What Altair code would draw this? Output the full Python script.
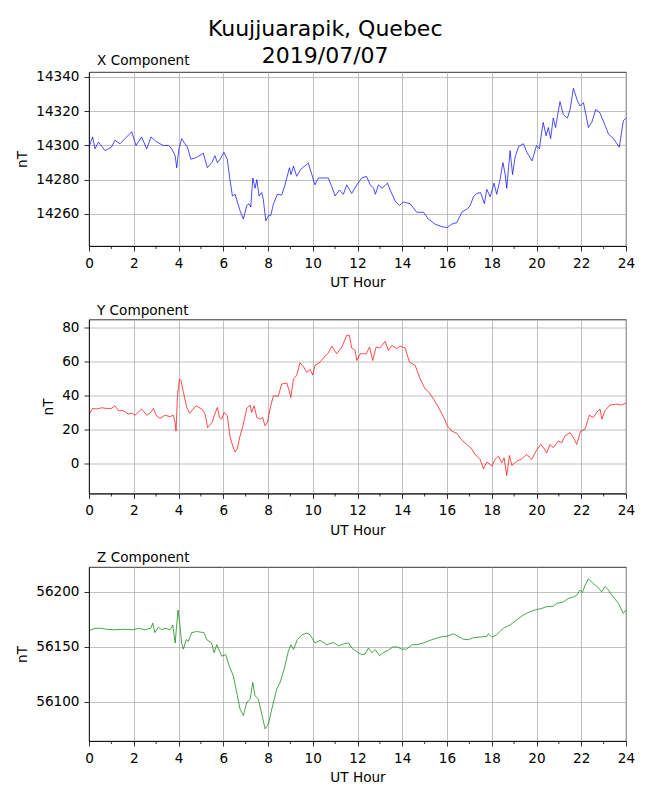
import altair as alt
import pandas as pd

# ---------------- data ----------------
x_hours = [0.0, 0.16, 0.27, 0.42, 0.72, 1.0, 1.16, 1.39, 1.61, 1.91, 2.1, 2.35, 2.58, 2.77, 3.03, 3.32, 3.55, 3.7, 3.85, 3.92,
           4.02, 4.14, 4.29, 4.4, 4.55, 4.81, 5.11, 5.29, 5.49, 5.63, 5.74, 5.86, 6.03, 6.18, 6.3, 6.41, 6.53, 6.63, 6.75, 6.9,
           7.05, 7.15, 7.23, 7.32, 7.42, 7.5, 7.6, 7.72, 7.79, 7.9, 8.02, 8.12, 8.24, 8.42, 8.61, 8.76, 8.96, 9.03, 9.14, 9.28,
           9.46, 9.8, 9.96, 10.1, 10.25, 10.48, 10.7, 10.85, 11.0, 11.19, 11.37, 11.52, 11.74, 11.97, 12.19, 12.4, 12.57, 12.72,
           12.8, 12.94, 13.1, 13.34, 13.46, 13.68, 13.88, 14.05, 14.35, 14.65, 14.95, 15.17, 15.47, 15.77, 16.0, 16.2, 16.44,
           16.66, 16.9, 17.03, 17.18, 17.33, 17.5, 17.67, 17.78, 17.93, 18.1, 18.22, 18.37, 18.5, 18.6, 18.67, 18.82, 18.93,
           19.04, 19.2, 19.42, 19.57, 19.8, 20.0, 20.13, 20.2, 20.3, 20.43, 20.53, 20.63, 20.75, 20.85, 21.05, 21.2, 21.38,
           21.5, 21.65, 21.83, 21.95, 22.1, 22.32, 22.47, 22.65, 22.84, 23.07, 23.22, 23.44, 23.7, 23.88, 24.0]
x_values = [14299, 14305, 14298, 14302, 14297, 14299, 14303, 14301, 14304, 14308, 14300, 14305, 14298, 14305, 14302, 14300,
            14300, 14298, 14294, 14287, 14298, 14304, 14301, 14299, 14292, 14293, 14295.5, 14287, 14290, 14294, 14290, 14292,
            14296, 14292, 14280, 14270.5, 14271.5, 14267, 14262, 14257, 14265, 14266, 14264, 14281, 14275, 14280, 14270.5,
            14272.5, 14268.6, 14256, 14259, 14259, 14265.7, 14271.5, 14271, 14277, 14287, 14283, 14288, 14282, 14286, 14289.7,
            14283, 14277, 14281, 14281, 14281, 14276, 14270.5, 14274, 14271.5, 14277, 14272, 14277, 14281, 14282, 14277, 14275,
            14271.5, 14277, 14275, 14278, 14274, 14267.6, 14265, 14267, 14266, 14261, 14261, 14257, 14254, 14252.6, 14252,
            14254, 14255, 14261, 14263, 14264.7, 14270, 14272, 14272.5, 14266, 14274.4, 14270, 14278, 14271.5, 14280, 14290,
            14283, 14275, 14297, 14283, 14293, 14299.4, 14301, 14296, 14291, 14300, 14298, 14305, 14313.5, 14305.7, 14310.5,
            14304, 14316, 14310.5, 14325.6, 14318, 14316, 14321, 14333.4, 14326, 14323, 14325, 14310.5, 14313.5, 14321, 14319,
            14311.5, 14306.6, 14304, 14299, 14314.4, 14316]

y_hours = [0.04, 0.16, 0.34, 0.57, 0.79, 1.0, 1.16, 1.31, 1.53, 1.76, 1.91, 2.06, 2.35, 2.58, 2.73, 2.88, 3.0, 3.17, 3.4, 3.62,
           3.77, 3.85, 3.89, 3.95, 4.04, 4.11, 4.22, 4.37, 4.5, 4.78, 5.04, 5.19, 5.3, 5.5, 5.6, 5.74, 5.83, 5.93, 6.04, 6.18,
           6.3, 6.42, 6.53, 6.63, 6.75, 6.9, 7.05, 7.2, 7.27, 7.38, 7.5, 7.65, 7.76, 7.87, 7.97, 8.09, 8.24, 8.46, 8.61, 8.84,
           8.96, 9.02, 9.14, 9.28, 9.43, 9.6, 9.73, 9.88, 10.0, 10.1, 10.33, 10.55, 10.7, 10.85, 11.07, 11.3, 11.52, 11.64,
           11.74, 11.89, 11.97, 12.12, 12.39, 12.54, 12.68, 12.83, 13.0, 13.24, 13.38, 13.53, 13.76, 13.9, 14.13, 14.32, 14.58,
           14.8, 15.02, 15.17, 15.4, 15.62, 15.84, 16.0, 16.2, 16.44, 16.66, 16.88, 17.06, 17.26, 17.48, 17.63, 17.78, 17.93,
           18.0, 18.15, 18.3, 18.45, 18.55, 18.67, 18.79, 18.9, 19.12, 19.34, 19.56, 19.79, 19.98, 20.19, 20.31, 20.46, 20.6,
           20.75, 20.98, 21.13, 21.27, 21.5, 21.65, 21.8, 21.97, 22.17, 22.36, 22.54, 22.69, 22.84, 22.92, 23.06, 23.28, 23.58,
           23.8, 24.0]
y_values = [29.5, 32.3, 32, 32.7, 32.3, 32.3, 33.9, 31, 31, 29, 29.5, 28.3, 32, 28.3, 29.5, 32.3, 28.3, 26.4, 28.3, 27.5,
            28.3, 24, 19, 38.8, 49.7, 48.7, 41.8, 32.9, 29.5, 33.9, 32, 29, 21, 24, 28.3, 32.9, 27, 26, 30, 28,
            16, 10.2, 6.6, 8.6, 16, 23, 32.3, 34.3, 30, 33.9, 27, 26, 27, 22, 24, 32, 39.8, 39.4, 46.7, 47.3,
            42, 38.8, 49.7, 51.7, 59.2, 56.6, 53.6, 55.2, 52, 57.6, 59.6, 63.1, 65.1, 69, 64.5, 68.5, 75.4, 75.4,
            67.9, 66.5, 60.5, 64.5, 64.5, 68.5, 60.5, 68.5, 67.9, 71.8, 66.5, 69.4, 67.5, 69, 67.9, 59.6, 57.6,
            49.7, 43.8, 42.2, 37.8, 32.9, 27.5, 22.4, 19, 17.7, 13.7, 11.1, 9.2, 5.2, 2.3, -3.3, 0.7, -0.7,
            -1.7, 2.3, 4.2, 0.3, 3.2, -7.2, 4.6, -1.3, 1.3, 2.6, 5.2, 2.3, 7.2, 11.1, 9.2, 6.2, 11.1,
            9.2, 13.1, 12.1, 16.1, 18.1, 15.1, 11.1, 19, 20, 28.3, 27, 30, 32, 26, 31, 34.3, 34.9,
            34.3, 35.5]

z_hours = [0.04, 0.27, 0.49, 0.8, 1.09, 1.53, 1.98, 2.21, 2.5, 2.76, 2.85, 2.94, 3.1, 3.25, 3.4, 3.62, 3.74, 3.85, 3.92, 3.98,
           4.07, 4.14, 4.22, 4.34, 4.44, 4.59, 4.81, 5.14, 5.26, 5.48, 5.59, 5.71, 5.93, 6.11, 6.27, 6.45, 6.6, 6.75, 6.9, 7.05,
           7.2, 7.32, 7.42, 7.57, 7.72, 7.87, 8.02, 8.17, 8.39, 8.54, 8.72, 8.91, 9.02, 9.14, 9.31, 9.51, 9.73, 9.88, 10.1,
           10.33, 10.63, 10.92, 11.15, 11.37, 11.6, 11.74, 11.97, 12.19, 12.34, 12.49, 12.64, 12.79, 12.98, 13.16, 13.38,
           13.58, 13.76, 13.98, 14.2, 14.43, 14.65, 14.95, 15.25, 15.54, 15.84, 16.0, 16.29, 16.51, 16.73, 16.96, 17.18,
           17.48, 17.78, 17.85, 18.0, 18.22, 18.52, 18.82, 19.12, 19.41, 19.71, 20.0, 20.23, 20.45, 20.75, 20.9, 21.2, 21.42,
           21.67, 21.8, 21.95, 22.05, 22.17, 22.32, 22.54, 22.76, 22.91, 23.06, 23.2, 23.43, 23.66, 23.88, 24.0]
z_values = [56165, 56167, 56167, 56166, 56165.6, 56166, 56165.6, 56167, 56165.6, 56167, 56171.6, 56163, 56168, 56165.6, 56167,
            56165.6, 56170, 56153.6, 56170, 56183.6, 56168.6, 56153.6, 56148, 56156.6, 56155, 56163, 56164, 56163, 56156.6,
            56153.6, 56144.6, 56152, 56141.6, 56143, 56132.6, 56123.6, 56108.6, 56093.5, 56087.5, 56099.5, 56102.5, 56117.6,
            56105.6, 56102.5, 56089, 56075.5, 56080, 56093.5, 56111.6, 56117.6, 56129.6, 56146, 56152, 56147.6, 56156.6,
            56161, 56162.6, 56161, 56153.6, 56156, 56152, 56154, 56151, 56152.7, 56153.6, 56149, 56145.5, 56143, 56143.5,
            56149, 56144.6, 56147.6, 56142, 56145, 56147, 56150, 56150, 56148, 56148, 56152, 56152, 56153.6, 56156, 56158,
            56159.6, 56159.6, 56162, 56159.6, 56157, 56156.6, 56158.4, 56159, 56159.6, 56162, 56159, 56161, 56167, 56170,
            56174.6, 56179, 56182, 56184, 56185, 56186.6, 56187, 56189.6, 56191, 56194, 56195.6, 56197, 56201.7, 56199.5,
            56206, 56212, 56207.7, 56204, 56200, 56205, 56202, 56195.6, 56189.6, 56180.6, 56183.6]

major_hours = list(range(0, 25, 2))
minor_hours = list(range(1, 24, 2))

x_ticks = [14260, 14280, 14300, 14320, 14340]
y_ticks = [0, 20, 40, 60, 80]
z_ticks = [56100, 56150, 56200]

x_domain = [14241.3, 14342.9]
y_domain = [-17.8, 84.7]
z_domain = [56064.4, 56222.7]

W, H = 537, 174


def panel(hours, values, color, title, domain, ticks):
    df = pd.DataFrame({"hour": hours, "value": values})
    xscale = alt.Scale(domain=[0, 24], nice=False)
    xaxis = alt.Axis(values=major_hours, title="UT Hour", format="d", labelFlush=False)
    line = alt.Chart(df).mark_line(color=color, strokeWidth=0.7).encode(
        x=alt.X("hour:Q", scale=xscale, axis=xaxis),
        y=alt.Y("value:Q", scale=alt.Scale(domain=domain, nice=False, zero=False),
                axis=alt.Axis(values=ticks, title="nT", format="d", titlePadding=6, labelFlush=False)),
    )
    minor = alt.Chart(pd.DataFrame({"hour": minor_hours})).mark_rule(
        color="black", strokeWidth=0.8
    ).encode(
        x=alt.X("hour:Q", scale=xscale, axis=xaxis),
        y=alt.value(H),
        y2=alt.value(H + 3),
    )
    return alt.layer(line, minor).properties(
        width=W, height=H,
        title=alt.TitleParams(title, anchor="start", frame="group", fontSize=13.6, fontWeight="normal",
                              offset=2, dx=8, color="black"),
    )


chart = alt.vconcat(
    panel(x_hours, x_values, "#0000ff", "X Component", x_domain, x_ticks),
    panel(y_hours, y_values, "#ff0000", "Y Component", y_domain, y_ticks),
    panel(z_hours, z_values, "#008000", "Z Component", z_domain, z_ticks),
    spacing=13.5,
).properties(
    title=alt.TitleParams(["Kuujjuarapik, Quebec", "2019/07/07"], fontSize=22, fontWeight="normal",
                          anchor="middle", lineHeight=27, offset=-14, color="black"),
    padding={"left": 7, "top": 9, "right": 5, "bottom": 5},
).configure(
    font="DejaVu Sans",
).configure_axis(
    labelFontSize=13.6, titleFontSize=13.6, titleFontWeight="normal",
    labelColor="black", titleColor="black", domainColor="black", tickColor="black",
    gridColor="#b0b0b0", gridWidth=0.8, tickSize=5, domainWidth=0.8, tickWidth=0.8,
    labelPadding=5, titlePadding=6,
).configure_view(
    stroke="black", strokeWidth=0.8,
)

chart.save("out.html", embed_options={"renderer": "svg", "actions": False})
